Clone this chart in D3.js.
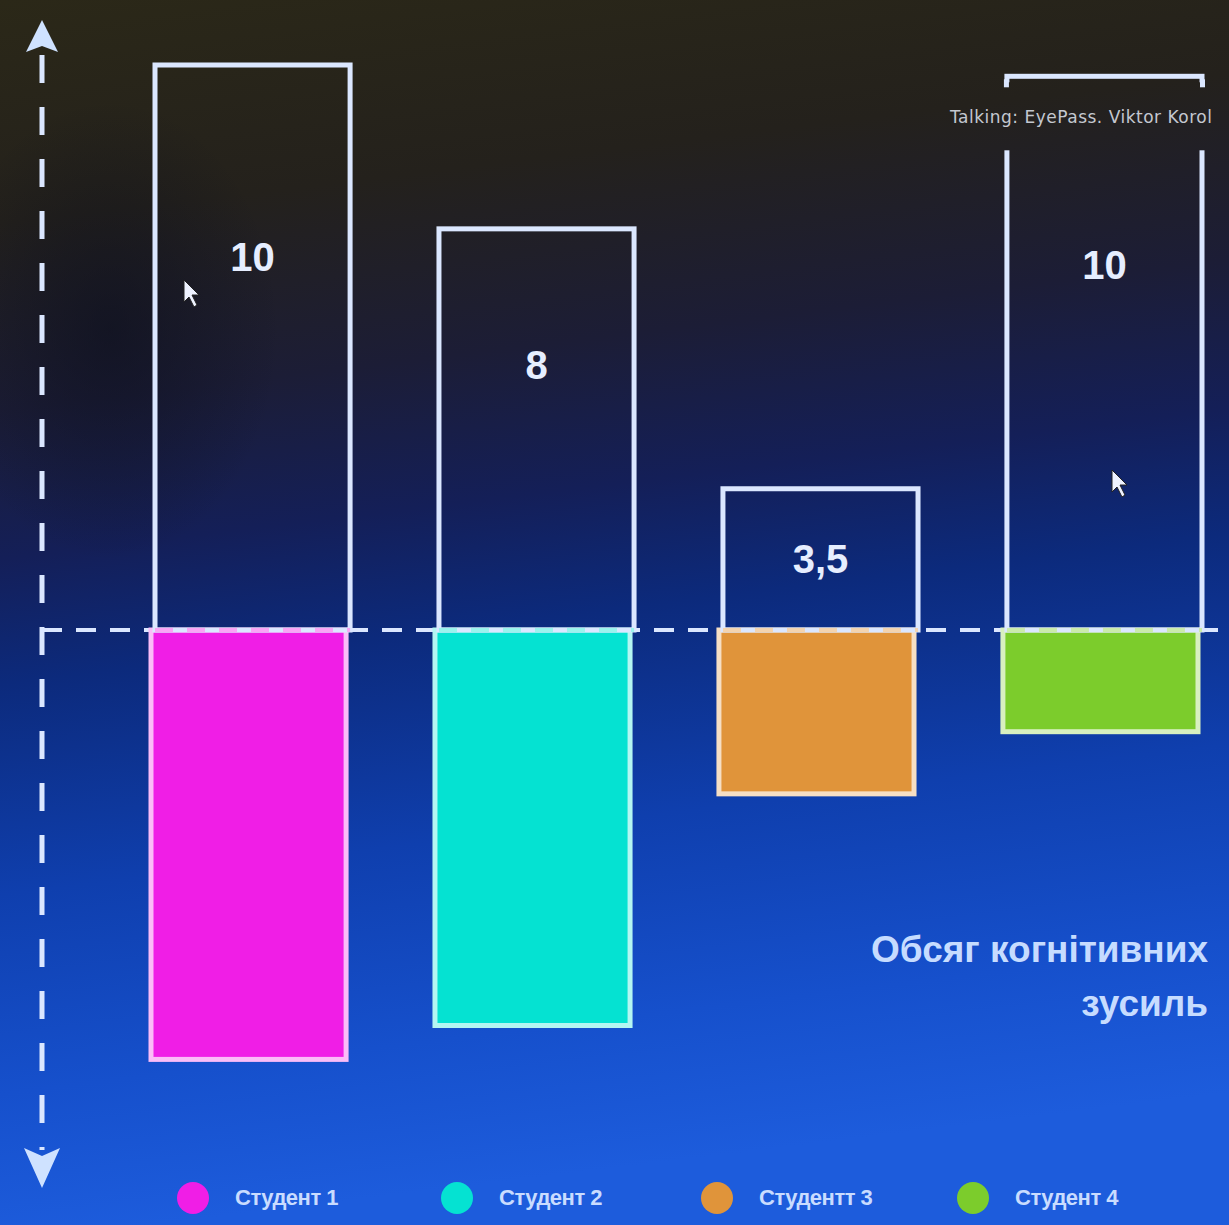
<!DOCTYPE html>
<html lang="uk">

<head>
  <meta charset="utf-8">
  <script src="https://d3js.org/d3.v7.min.js"></script>
  <style>
    body {
      margin: 0;
      background: #10163a;
    }

    .value {
      font-family: "Liberation Sans", Arial, sans-serif;
      font-weight: bold;
      font-size: 40px;
      fill: #e6eeff;
    }

    .legend-text {
      font-family: "Liberation Sans Narrow", "Liberation Sans", Arial, sans-serif;
      font-weight: bold;
      font-size: 22px;
      letter-spacing: -0.5px;
      fill: #c9dcff;
    }

    .title {
      font-family: "Liberation Sans", Arial, sans-serif;
      font-weight: bold;
      font-size: 37px;
      fill: #c6dcff;
    }

    .caption {
      font-family: "DejaVu Sans", sans-serif;
      font-size: 17px;
      letter-spacing: 0.5px;
      fill: #c4c8d0;
    }
  </style>
</head>

<body>
  <script>
    // data
    var students = ["Студент 1", "Студент 2", "Студентт 3", "Студент 4"];
    var labels = ["10", "8", "3,5", "10"];
    // drawn heights (units, 10 = tallest bar)
    var upper = [10, 7.1, 2.5, 9.8];
    var lower = [7.6, 7.0, 2.9, 1.8];
    var colors = ["#f01ee6", "#05e2d2", "#e0943a", "#7ccc2c"];
    var titleLines = ["Обсяг когнітивних", "зусиль"];
    var caption = "Talking: EyePass. Viktor Korol";

    var w = 1229,
      h = 1225,
      baseline = 630;

    var svg = d3.select("body")
      .append("svg")
      .attr("width", w)
      .attr("height", h);

    var defs = svg.append("defs");
    var grad = defs.append("linearGradient")
      .attr("id", "bg")
      .attr("gradientUnits", "userSpaceOnUse")
      .attr("x1", 0).attr("y1", 0)
      .attr("x2", 150).attr("y2", h);
    [[0, "#2b2818"], [0.18, "#24211c"], [0.33, "#1c1d36"], [0.45, "#141f58"],
     [0.55, "#0c2a7c"], [0.72, "#0f3fae"], [0.88, "#1650cc"], [1, "#1d5cdc"]]
      .forEach(function (s) {
        grad.append("stop").attr("offset", s[0]).attr("stop-color", s[1]);
      });

    svg.append("rect")
      .attr("width", w)
      .attr("height", h)
      .attr("fill", "url(#bg)");

    // dark blob on left side of the photo
    var blob = defs.append("radialGradient").attr("id", "blob");
    blob.append("stop").attr("offset", 0).attr("stop-color", "#0a0d1c").attr("stop-opacity", 0.55);
    blob.append("stop").attr("offset", 1).attr("stop-color", "#0a0d1c").attr("stop-opacity", 0);
    svg.append("ellipse")
      .attr("cx", 110).attr("cy", 330)
      .attr("rx", 170).attr("ry", 230)
      .attr("fill", "url(#blob)");

    var x = d3.scaleBand()
      .domain(students)
      .range([155, 1202])
      .paddingInner(0.313)
      .paddingOuter(0);

    var y = d3.scaleLinear()
      .domain([0, 10])
      .range([baseline, 65]);

    var lineColor = "#dbe7ff";

    // horizontal dashed baseline
    svg.append("line")
      .attr("x1", 42).attr("x2", w)
      .attr("y1", baseline).attr("y2", baseline)
      .attr("stroke", lineColor)
      .attr("stroke-width", 4)
      .attr("stroke-dasharray", "20,14");

    // vertical dashed axis with arrows
    svg.append("line")
      .attr("x1", 42).attr("x2", 42)
      .attr("y1", 55).attr("y2", 1150)
      .attr("stroke", lineColor)
      .attr("stroke-width", 5)
      .attr("stroke-dasharray", "28,24");
    svg.append("path")
      .attr("d", "M42,20 L26,52 L42,46 L58,52 Z")
      .attr("fill", "#cfe2ff");
    svg.append("path")
      .attr("d", "M42,1188 L24,1148 L42,1156 L60,1148 Z")
      .attr("fill", "#cfe2ff");

    // lower filled bars
    svg.selectAll("rect.lower")
      .data(lower)
      .enter()
      .append("rect")
      .attr("class", "lower")
      .attr("x", function (d, i) { return x(students[i]) - 4; })
      .attr("y", baseline)
      .attr("width", x.bandwidth())
      .attr("height", function (d) { return y(0) - y(d); })
      .attr("fill", function (d, i) { return colors[i]; })
      .attr("stroke", function (d, i) { return d3.interpolateRgb(colors[i], "#ffffff")(0.7); })
      .attr("stroke-width", 5);

    // upper outline bars
    svg.selectAll("rect.upper")
      .data(upper)
      .enter()
      .append("rect")
      .attr("class", "upper")
      .attr("x", function (d, i) { return x(students[i]); })
      .attr("y", function (d) { return y(d); })
      .attr("width", x.bandwidth())
      .attr("height", function (d) { return y(0) - y(d); })
      .attr("fill", "none")
      .attr("stroke", lineColor)
      .attr("stroke-width", 5);

    // dashes over colored tops
    svg.selectAll("line.topdash")
      .data(lower)
      .enter()
      .append("line")
      .attr("x1", function (d, i) { return x(students[i]); })
      .attr("x2", function (d, i) { return x(students[i]) + x.bandwidth(); })
      .attr("y1", baseline).attr("y2", baseline)
      .attr("stroke", function (d, i) { return d3.interpolateRgb(colors[i], "#ffffff")(0.6); })
      .attr("stroke-width", 4)
      .attr("stroke-dasharray", "18,14");

    // gap in the last bar for the caption
    var last = students[3];
    svg.append("rect")
      .attr("x", x(last) - 6)
      .attr("y", y(upper[3]) + 6)
      .attr("width", x.bandwidth() + 12)
      .attr("height", 68)
      .attr("fill", "url(#bg)");
    svg.append("rect")
      .attr("x", x(last) - 3)
      .attr("y", y(upper[3]) + 3)
      .attr("width", 5).attr("height", 8)
      .attr("fill", lineColor);
    svg.append("rect")
      .attr("x", x(last) + x.bandwidth() - 2)
      .attr("y", y(upper[3]) + 3)
      .attr("width", 5).attr("height", 8)
      .attr("fill", lineColor);
    svg.append("text")
      .attr("class", "caption")
      .attr("x", 950)
      .attr("y", 123)
      .text(caption);

    // value labels
    svg.selectAll("text.value")
      .data(upper)
      .enter()
      .append("text")
      .attr("class", "value")
      .attr("text-anchor", "middle")
      .attr("x", function (d, i) { return x(students[i]) + x.bandwidth() / 2; })
      .attr("y", function (d) {
        var hh = y(0) - y(d);
        return y(d) + Math.max(hh * 0.34, 70) + 14;
      })
      .text(function (d, i) { return labels[i]; });

    // cursor arrows from the screen photo
    [[184, 280], [1112, 470]].forEach(function (p) {
      svg.append("path")
        .attr("d", "M" + p[0] + "," + p[1] + " l0,22 l5,-5 l5,10 l3,-2 l-5,-10 l7,0 Z")
        .attr("fill", "#eef2ff")
        .attr("stroke", "#222")
        .attr("stroke-width", 1);
    });

    // title
    svg.selectAll("text.title")
      .data(titleLines)
      .enter()
      .append("text")
      .attr("class", "title")
      .attr("text-anchor", "end")
      .attr("x", 1208)
      .attr("y", function (d, i) { return 962 + i * 54; })
      .text(function (d) { return d; });

    // legend
    var legendX = [193, 457, 717, 973];
    var leg = svg.selectAll("g.legend")
      .data(students)
      .enter()
      .append("g")
      .attr("class", "legend")
      .attr("transform", function (d, i) { return "translate(" + legendX[i] + ",1198)"; });
    leg.append("circle")
      .attr("r", 16)
      .attr("fill", function (d, i) { return colors[i]; });
    leg.append("text")
      .attr("class", "legend-text")
      .attr("x", 42)
      .attr("y", 7)
      .text(function (d) { return d; });
  </script>
</body>

</html>
